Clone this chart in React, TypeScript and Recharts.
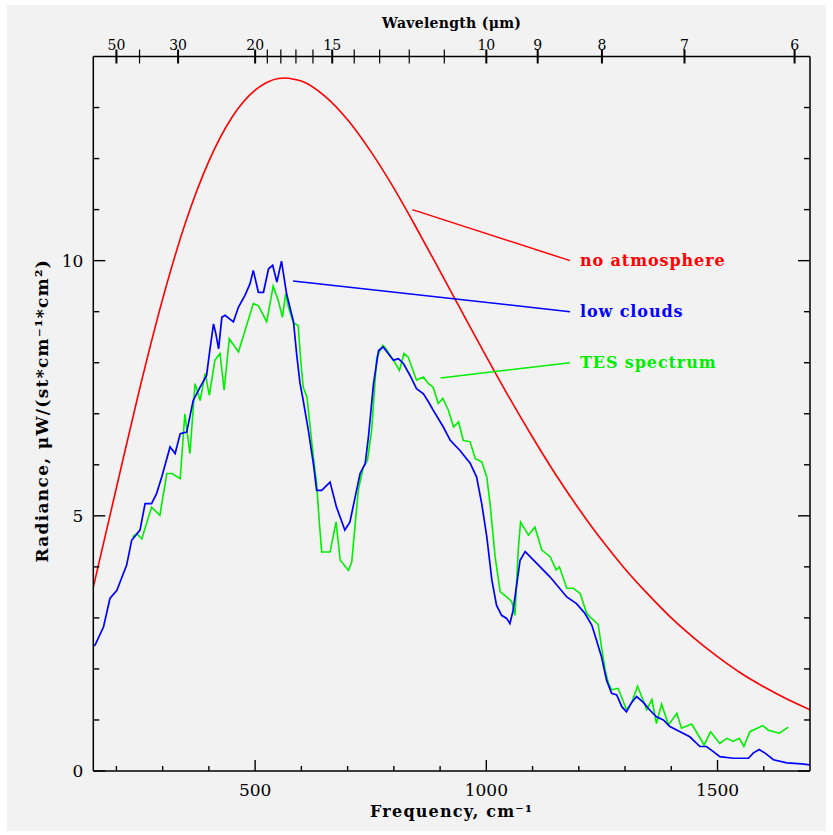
import React from "react";
import { LineChart, Line, XAxis, YAxis, ReferenceLine, ReferenceDot } from "recharts";

// [frequency cm^-1, radiance]
const noAtmosphere: [number, number][] = [
  [150, 3.6], [200, 5.55], [250, 7.48], [300, 9.25], [350, 10.76], [400, 11.95],
  [450, 12.81], [500, 13.34], [525, 13.49], [550, 13.57], [565, 13.58], [575, 13.57],
  [600, 13.52], [650, 13.23], [700, 12.76], [750, 12.14], [800, 11.42], [850, 10.62],
  [900, 9.79], [950, 8.95], [1000, 8.12], [1050, 7.31], [1100, 6.54], [1150, 5.81],
  [1200, 5.14], [1250, 4.52], [1300, 3.96], [1350, 3.46], [1400, 3.0], [1450, 2.6],
  [1500, 2.24], [1550, 1.92], [1600, 1.65], [1650, 1.41], [1700, 1.2],
];

const lowClouds: [number, number][] = [
  [150, 2.45], [154, 2.47], [172, 2.82], [186, 3.38], [201, 3.54], [215, 3.87], [222, 4.03],
  [233, 4.52], [251, 4.72], [262, 5.24], [276, 5.24], [287, 5.44], [298, 5.76], [316, 6.35],
  [327, 6.22], [338, 6.61], [352, 6.64], [366, 7.26], [381, 7.52], [395, 7.75], [402, 8.24],
  [410, 8.76], [415, 8.57], [421, 8.27], [428, 8.89], [435, 8.93], [453, 8.8], [464, 9.09],
  [478, 9.32], [489, 9.55], [496, 9.81], [507, 9.38], [518, 9.38], [529, 9.84], [538, 9.91],
  [547, 9.58], [557, 9.99], [568, 9.35], [583, 8.8], [590, 8.15], [597, 7.6], [604, 7.26],
  [615, 6.68], [626, 6.02], [633, 5.5], [644, 5.5], [662, 5.66], [676, 5.17], [694, 4.72],
  [705, 4.88], [727, 5.83], [738, 6.02], [745, 6.54], [756, 7.59], [767, 8.24], [777, 8.31],
  [799, 8.05], [810, 8.08], [821, 7.98], [835, 7.75], [849, 7.49], [864, 7.39], [875, 7.23],
  [885, 7.07], [907, 6.74], [922, 6.48], [943, 6.28], [965, 6.03], [979, 5.76], [990, 5.24],
  [1001, 4.59], [1012, 3.74], [1022, 3.25], [1033, 3.05], [1044, 2.99], [1051, 2.89],
  [1058, 3.15], [1066, 3.67], [1073, 4.13], [1084, 4.3], [1109, 4.07], [1138, 3.8],
  [1174, 3.41], [1195, 3.28], [1213, 3.09], [1228, 2.86], [1238, 2.57], [1249, 2.24],
  [1260, 1.78], [1271, 1.52], [1282, 1.49], [1293, 1.26], [1303, 1.16], [1314, 1.34],
  [1325, 1.46], [1340, 1.34], [1354, 1.19], [1368, 1.06], [1383, 1.0], [1397, 0.87],
  [1419, 0.77], [1440, 0.67], [1462, 0.48], [1476, 0.48], [1491, 0.38], [1505, 0.28],
  [1534, 0.25], [1567, 0.25], [1577, 0.35], [1590, 0.42], [1603, 0.35], [1621, 0.22],
  [1650, 0.16], [1682, 0.14], [1700, 0.12],
];

const tesSpectrum: [number, number][] = [
  [235, 4.59], [244, 4.65], [255, 4.55], [276, 5.17], [294, 5.01], [309, 5.83], [320, 5.83],
  [338, 5.73], [348, 7.0], [359, 6.22], [370, 7.59], [381, 7.26], [392, 7.79], [401, 7.36],
  [413, 8.05], [424, 8.18], [433, 7.46], [444, 8.47], [464, 8.21], [496, 9.16], [507, 9.12],
  [525, 8.8], [539, 9.5], [550, 9.22], [559, 8.89], [566, 9.35], [572, 9.09], [583, 8.78],
  [593, 8.73], [599, 8.0], [604, 7.52], [612, 7.33], [619, 6.74], [626, 6.15], [633, 5.63],
  [639, 4.85], [644, 4.29], [662, 4.29], [675, 4.88], [684, 4.13], [702, 3.93], [709, 4.1],
  [723, 5.5], [734, 5.96], [743, 6.09], [752, 6.68], [763, 8.11], [776, 8.34], [781, 8.3],
  [799, 8.05], [812, 7.85], [822, 8.18], [831, 8.11], [849, 7.66], [864, 7.72], [875, 7.59],
  [885, 7.52], [896, 7.2], [906, 7.3], [918, 7.07], [929, 6.74], [940, 6.84], [950, 6.48],
  [965, 6.45], [976, 6.12], [990, 6.06], [1001, 5.76], [1008, 5.24], [1019, 4.2], [1030, 3.51],
  [1044, 3.41], [1055, 3.32], [1062, 3.05], [1069, 4.33], [1074, 4.88], [1091, 4.62],
  [1105, 4.78], [1120, 4.33], [1138, 4.2], [1151, 3.94], [1158, 4.0], [1174, 3.58],
  [1188, 3.58], [1203, 3.48], [1217, 3.09], [1224, 3.02], [1242, 2.87], [1249, 2.43],
  [1257, 1.98], [1264, 1.72], [1271, 1.59], [1285, 1.62], [1303, 1.2], [1314, 1.33],
  [1327, 1.66], [1336, 1.46], [1347, 1.2], [1358, 1.4], [1368, 0.93], [1379, 1.31],
  [1394, 0.9], [1412, 1.13], [1422, 0.84], [1444, 0.92], [1458, 0.71], [1471, 0.51],
  [1485, 0.77], [1505, 0.54], [1520, 0.64], [1534, 0.58], [1547, 0.64], [1557, 0.48],
  [1570, 0.77], [1598, 0.89], [1610, 0.8], [1634, 0.74], [1653, 0.86],
];

const freqTicks = [200, 300, 400, 500, 600, 700, 800, 900, 1000, 1100, 1200, 1300, 1400, 1500, 1600];
const freqLabels = [500, 1000, 1500];
const radianceTicks = [0, 1, 2, 3, 4, 5, 6, 7, 8, 9, 10, 11, 12, 13];
const radianceLabels = [0, 5, 10];
const wavelengthTicks = [50, 40, 30, 20, 19, 18, 17, 16, 15, 14, 13, 12, 11, 10, 9, 8, 7, 6];
const wavelengthLabels = [50, 30, 20, 15, 10, 9, 8, 7, 6];

// annotation pointers: [from, to] in data units, label text, colour
const annotations = [
  { from: [840, 11.0], to: [1181, 10.0], text: "no atmosphere", color: "#ff0000" },
  { from: [582, 9.6], to: [1181, 9.0], text: "low clouds", color: "#0000ff" },
  { from: [901, 7.7], to: [1181, 8.0], text: "TES spectrum", color: "#00ee00" },
];

const toRows = (pts: [number, number][]) => pts.map(([nu, v]) => ({ nu, v }));

const FONT = "'DejaVu Serif', serif";
const INK = "#000";

function BottomTick({ x, y, payload }: any) {
  const major = freqLabels.includes(payload.value);
  return (
    <g>
      <line x1={x} x2={x} y1={y} y2={y - (major ? 11 : 5)} stroke={INK} strokeWidth={1.4} />
      {major && (
        <text x={x} y={y + 25} textAnchor="middle" fontSize={17} fontFamily={FONT} fill={INK}>
          {payload.value}
        </text>
      )}
    </g>
  );
}

function TopTick({ x, y, payload }: any) {
  const lambda = Math.round(10000 / payload.value);
  const major = wavelengthLabels.includes(lambda);
  return (
    <g>
      <line x1={x} x2={x} y1={y - 7} y2={y + 7} stroke={INK} strokeWidth={major ? 2 : 1.2} />
      {major && (
        <text x={x} y={y - 7} textAnchor="middle" fontSize={14} fontFamily={FONT} fill={INK}>
          {lambda}
        </text>
      )}
    </g>
  );
}

function LeftTick({ x, y, payload }: any) {
  const major = radianceLabels.includes(payload.value);
  return (
    <g>
      <line x1={x} x2={x + (major ? 12 : 6)} y1={y} y2={y} stroke={INK} strokeWidth={1.4} />
      {major && (
        <text x={x - 10} y={y + 6} textAnchor="end" fontSize={17} fontFamily={FONT} fill={INK}>
          {payload.value}
        </text>
      )}
    </g>
  );
}

function RightTick({ x, y, payload }: any) {
  const major = radianceLabels.includes(payload.value);
  return <line x1={x} x2={x - (major ? 12 : 6)} y1={y} y2={y} stroke={INK} strokeWidth={1.4} />;
}

export default function App() {
  return (
    <div style={{ position: "absolute", left: 0, top: 0, width: 833, height: 835, background: "#fff" }}>
      <div style={{ position: "absolute", left: 7, top: 5, width: 819, height: 826, background: "#f2f2f2" }} />
      <div style={{ position: "absolute", left: 0, top: 0 }}>
        <LineChart width={833} height={835} margin={{ top: 26.5, right: 13, bottom: 24, left: 43.3 }}>
          <XAxis
            xAxisId="freq"
            dataKey="nu"
            type="number"
            domain={[150, 1700]}
            allowDataOverflow
            ticks={freqTicks}
            interval={0}
            height={40}
            tickSize={0}
            tickMargin={0}
            tickLine={false}
            tick={<BottomTick />}
            axisLine={{ stroke: INK, strokeWidth: 1.5 }}
            label={{
              content: ({ viewBox }: any) => (
                <text x={viewBox.x + viewBox.width / 2} y={viewBox.y + 46} textAnchor="middle"
                  fontSize={16} letterSpacing={1.2} fontWeight="bold" fontFamily={FONT} fill={INK}>
                  Frequency, cm⁻¹
                </text>
              ),
            }}
          />
          <XAxis
            xAxisId="wl"
            orientation="top"
            dataKey="nu"
            type="number"
            domain={[150, 1700]}
            allowDataOverflow
            ticks={wavelengthTicks.map((l) => 10000 / l)}
            interval={0}
            height={30}
            tickSize={0}
            tickMargin={0}
            tickLine={false}
            tick={<TopTick />}
            axisLine={{ stroke: INK, strokeWidth: 1.5 }}
            label={{
              content: ({ viewBox }: any) => (
                <text x={viewBox.x + viewBox.width / 2} y={viewBox.y + 1.5} textAnchor="middle"
                  fontSize={14} letterSpacing={0.3} fontWeight="bold" fontFamily={FONT} fill={INK}>
                  Wavelength (μm)
                </text>
              ),
            }}
          />
          <YAxis
            yAxisId="rad"
            type="number"
            domain={[0, 14]}
            allowDataOverflow
            ticks={radianceTicks}
            interval={0}
            width={50}
            tickSize={0}
            tickMargin={0}
            tickLine={false}
            tick={<LeftTick />}
            axisLine={{ stroke: INK, strokeWidth: 1.5 }}
            label={{
              content: ({ viewBox }: any) => {
                const cx = viewBox.x + 5;
                const cy = viewBox.y + viewBox.height / 2 - 3;
                return (
                  <text x={cx} y={cy} transform={`rotate(-90, ${cx}, ${cy})`} textAnchor="middle"
                    fontSize={17} letterSpacing={1.3} fontWeight="bold" fontFamily={FONT} fill={INK}>
                    Radiance, μW/(st*cm⁻¹*cm²)
                  </text>
                );
              },
            }}
          />
          <YAxis
            yAxisId="radR"
            orientation="right"
            type="number"
            domain={[0, 14]}
            allowDataOverflow
            ticks={radianceTicks}
            interval={0}
            width={10}
            tickSize={0}
            tickMargin={0}
            tickLine={false}
            tick={<RightTick />}
            axisLine={{ stroke: INK, strokeWidth: 1.5 }}
          />

          <Line data={toRows(noAtmosphere)} xAxisId="freq" yAxisId="rad" dataKey="v" type="monotone"
            stroke="#ff0000" strokeWidth={1.6} dot={false} isAnimationActive={false} />
          <Line data={toRows(tesSpectrum)} xAxisId="freq" yAxisId="rad" dataKey="v" type="linear"
            stroke="#00ee00" strokeWidth={1.6} dot={false} isAnimationActive={false} />
          <Line data={toRows(lowClouds)} xAxisId="freq" yAxisId="rad" dataKey="v" type="linear"
            stroke="#0000ff" strokeWidth={1.7} dot={false} isAnimationActive={false} />

          {annotations.map((a) => (
            <ReferenceLine key={a.text} xAxisId="freq" yAxisId="rad"
              segment={[{ x: a.from[0], y: a.from[1] }, { x: a.to[0], y: a.to[1] }]}
              stroke={a.color} strokeWidth={1.5} />
          ))}
          {annotations.map((a) => (
            <ReferenceDot key={a.text + "-label"} xAxisId="freq" yAxisId="rad" x={a.to[0]} y={a.to[1]}
              r={0} stroke="none" fill="none"
              label={{ value: a.text, position: "right", offset: 10, fill: a.color, letterSpacing: 0.9,
                fontSize: 16, fontWeight: "bold", fontFamily: FONT }} />
          ))}
        </LineChart>
      </div>
    </div>
  );
}
